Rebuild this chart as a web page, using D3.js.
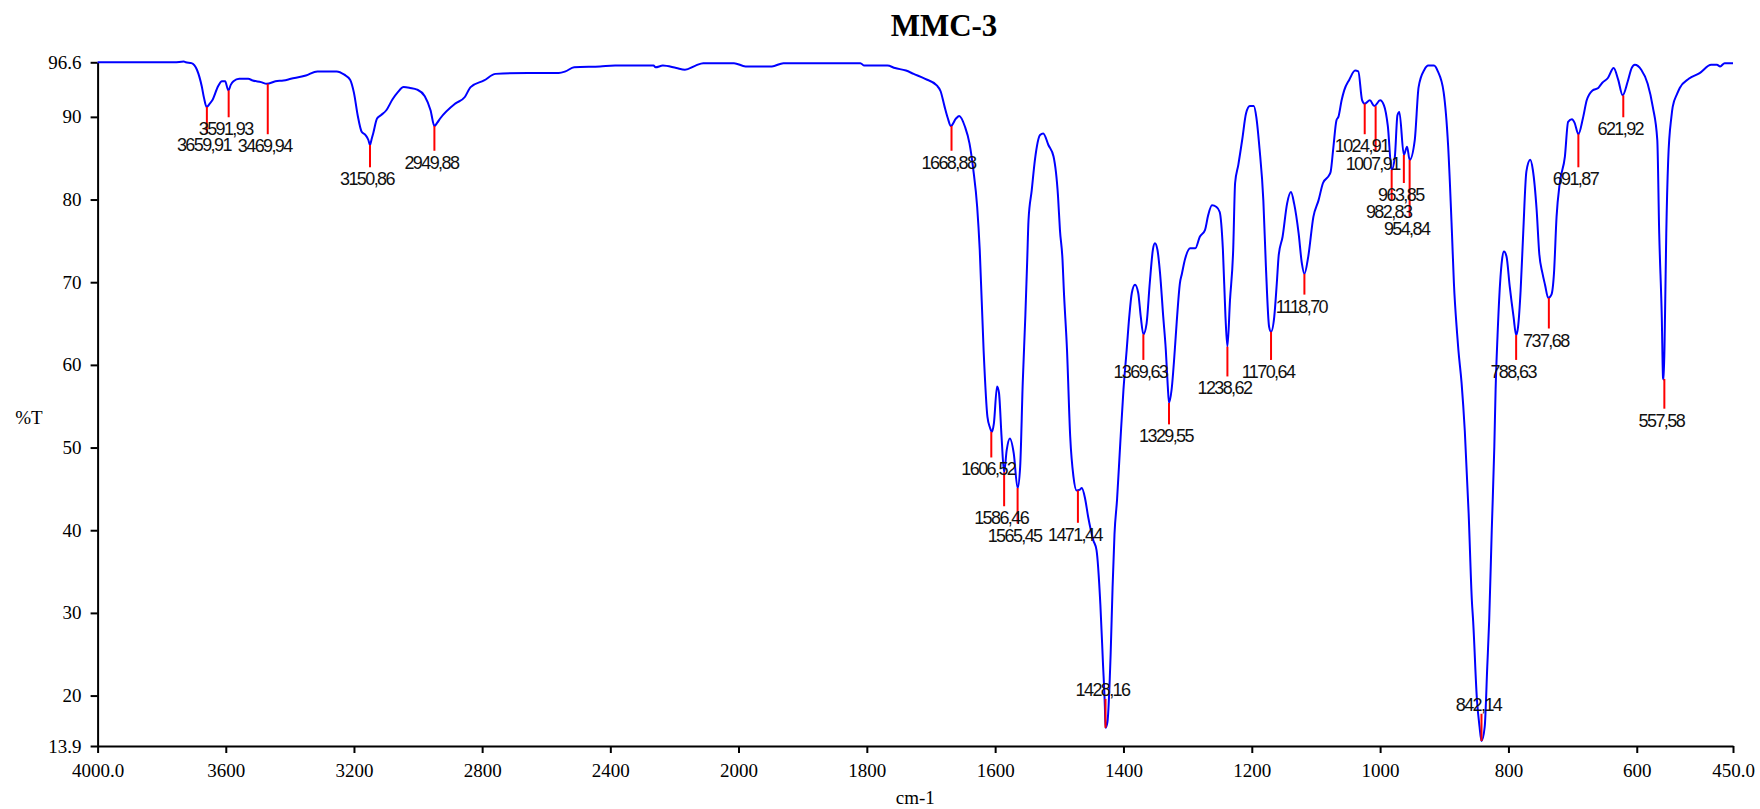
<!DOCTYPE html>
<html>
<head>
<meta charset="utf-8">
<title>MMC-3</title>
<script src="https://cdn.jsdelivr.net/npm/d3@7"></script>
<style>
  body { margin: 0; background: #fff; }
  svg { display: block; }
</style>
</head>
<body>
<svg id="chart"></svg>
<script>
// spectrum: wavenumber (cm-1) and %T
var wavenumber = [
  4000, 3760, 3731, 3725, 3707, 3690, 3675, 3668, 3660, 3650,
  3642, 3624, 3612, 3602, 3592, 3584, 3576, 3558, 3530, 3516,
  3490, 3472, 3445, 3420, 3397, 3350, 3314, 3254, 3230, 3212,
  3200, 3188, 3176, 3164, 3155, 3150, 3145, 3140, 3128, 3116,
  3099, 3080, 3063, 3045, 3025, 3003, 2979, 2961, 2949, 2940,
  2931, 2884, 2854, 2836, 2794, 2758, 2657, 2561, 2540, 2513,
  2432, 2385, 2265, 2259, 2236, 2194, 2167, 2134, 2110, 2014,
  1989, 1948, 1930, 1810, 1804, 1768, 1756, 1739, 1727, 1709,
  1691, 1685, 1679, 1674, 1669, 1661, 1656, 1647, 1640, 1634,
  1628, 1624, 1618, 1612, 1608, 1605, 1602, 1597, 1594, 1590,
  1586, 1582, 1577, 1571, 1565, 1561, 1557, 1553, 1550, 1548,
  1543, 1538, 1530, 1525, 1517, 1509, 1502, 1499, 1495, 1493,
  1488, 1483, 1478, 1473, 1468, 1465, 1460, 1455, 1447, 1442,
  1436, 1432, 1429, 1428, 1425, 1420, 1417, 1414, 1410, 1405,
  1400, 1395, 1391, 1387, 1382, 1377, 1373, 1369, 1364, 1359,
  1354, 1351, 1347, 1343, 1338, 1334, 1331, 1329, 1325, 1320,
  1317, 1312, 1309, 1304, 1296, 1288, 1281, 1273, 1268, 1262,
  1255, 1250, 1245, 1241, 1238, 1234, 1229, 1226, 1221, 1215,
  1209, 1203, 1197, 1193, 1188, 1182, 1178, 1173, 1170, 1165,
  1161, 1158, 1152, 1145, 1139, 1134, 1127, 1122, 1118, 1112,
  1104, 1096, 1089, 1079, 1077, 1073, 1068, 1065, 1060, 1056,
  1048, 1039, 1034, 1028, 1024, 1016, 1009, 1000, 994, 988,
  982, 977, 973, 970, 963, 958, 954, 946, 940, 931,
  925, 916, 910, 901, 894, 888, 885, 880, 878, 873,
  868, 862, 857, 855, 849, 845, 842, 837, 833, 830,
  826, 822, 820, 817, 813, 810, 807, 803, 798, 792,
  788, 785, 781, 777, 772, 766, 762, 756, 752, 747,
  743, 738, 733, 729, 725, 720, 712, 707, 701, 697,
  691, 684, 678, 669, 660, 654, 645, 636, 629, 622,
  614, 608, 603, 593, 583, 575, 568, 565, 561, 559,
  558, 556, 554, 551, 546, 544, 537, 533, 519, 502,
  484, 475, 470, 463, 450
];
var transmittance = [
  96.6, 96.6, 96.7, 96.6, 96.5, 95.7, 93.7, 92.3, 91.2, 91.6,
  92.0, 93.7, 94.3, 94.3, 93.2, 93.9, 94.3, 94.6, 94.6, 94.4,
  94.2, 94.0, 94.3, 94.4, 94.6, 95.0, 95.5, 95.5, 95.1, 94.5,
  92.9, 90.1, 88.2, 87.8, 87.2, 86.6, 87.3, 88.0, 89.8, 90.2,
  90.8, 92.1, 93.0, 93.6, 93.5, 93.3, 92.5, 90.8, 88.9, 89.3,
  89.8, 91.6, 92.4, 93.6, 94.4, 95.2, 95.3, 95.3, 95.5, 96.0,
  96.1, 96.2, 96.2, 96.0, 96.2, 95.9, 95.7, 96.2, 96.5, 96.5,
  96.1, 96.1, 96.5, 96.5, 96.2, 96.2, 95.9, 95.6, 95.2, 94.6,
  93.8, 93.1, 91.3, 89.9, 88.9, 89.8, 90.1, 88.8, 86.8, 83.6,
  79.1, 73.9, 61.8, 53.7, 52.4, 51.9, 52.9, 57.4, 56.6, 51.3,
  47.0, 49.7, 51.1, 49.3, 45.1, 47.7, 57.8, 65.8, 72.7, 77.5,
  81.1, 84.8, 87.8, 88.0, 86.6, 85.2, 80.4, 76.3, 72.7, 69.1,
  61.8, 51.3, 46.5, 44.8, 44.9, 45.1, 43.9, 41.6, 38.8, 37.6,
  31.0, 24.0, 18.7, 16.1, 16.8, 25.0, 33.0, 39.5, 43.7, 50.5,
  57.0, 61.8, 65.8, 68.7, 69.7, 68.7, 65.8, 63.7, 65.0, 69.9,
  74.0, 74.7, 73.9, 71.1, 65.8, 61.8, 57.5, 55.4, 57.0, 61.8,
  65.2, 69.9, 71.0, 72.8, 74.1, 74.1, 75.5, 76.3, 78.1, 79.3,
  79.1, 78.5, 73.9, 65.8, 62.2, 67.8, 73.9, 82.0, 84.2, 87.2,
  90.4, 91.3, 91.3, 90.0, 86.2, 79.9, 71.9, 64.6, 64.0, 65.8,
  69.9, 73.3, 75.5, 79.5, 80.9, 79.5, 75.9, 72.3, 71.0, 73.1,
  77.9, 79.9, 82.0, 83.0, 83.4, 86.2, 89.6, 90.0, 92.0, 93.2,
  94.5, 95.6, 95.5, 92.0, 91.6, 92.0, 91.3, 92.0, 91.4, 88.9,
  83.6, 85.2, 90.2, 90.6, 85.4, 86.4, 84.8, 87.2, 93.6, 95.7,
  96.2, 96.2, 95.5, 93.0, 86.5, 75.9, 69.9, 63.8, 61.8, 57.8,
  52.0, 42.0, 31.5, 29.0, 19.4, 16.2, 14.5, 16.2, 23.5, 29.1,
  40.0, 50.1, 57.0, 63.5, 69.9, 72.7, 73.7, 73.1, 69.5, 65.8,
  63.6, 64.6, 69.0, 75.9, 83.4, 84.8, 83.6, 78.7, 73.5, 71.1,
  69.7, 68.1, 68.5, 71.1, 77.9, 82.0, 85.2, 89.4, 89.7, 89.3,
  87.9, 89.8, 92.0, 93.2, 93.5, 94.1, 94.7, 95.9, 94.5, 92.6,
  94.3, 95.9, 96.3, 95.7, 94.0, 91.2, 87.2, 75.9, 65.8, 58.4,
  58.2, 65.8, 75.9, 84.8, 90.0, 91.2, 92.8, 93.5, 94.6, 95.3,
  96.3, 96.3, 96.1, 96.5, 96.5
];

// peak picks: position, %T at the dip, %T where the marker line stops, label
var peakWn = [3659, 3591, 3469, 3150, 2949, 1668, 1606, 1586, 1565, 1471, 1428, 1369, 1329, 1238,
              1170, 1118, 1024, 1007, 982, 963, 954, 842, 788, 737, 691, 621, 557];
var peakT = [91.2, 93.2, 94.0, 86.6, 88.9, 88.9, 51.9, 47.0, 45.1, 44.8, 16.1, 63.7, 55.4, 62.2,
             64.0, 71.0, 91.6, 91.3, 83.6, 85.4, 84.8, 14.5, 63.6, 68.1, 87.9, 92.6, 58.3];
var peakEndT = [88.0, 89.95, 87.9, 83.9, 85.9, 85.9, 48.8, 42.9, 40.8, 40.9, 19.6, 60.6, 52.8, 58.6,
                60.6, 68.5, 87.9, 85.8, 79.9, 82.0, 77.9, 17.8, 60.6, 64.4, 83.9, 89.95, 54.7];
var peakLabel = ["3659,91", "3591,93", "3469,94", "3150,86", "2949,88", "1668,88", "1606,52",
                 "1586,46", "1565,45", "1471,44", "1428,16", "1369,63", "1329,55", "1238,62",
                 "1170,64", "1118,70", "1024,91", "1007,91", "982,83", "963,85", "954,84",
                 "842,14", "788,63", "737,68", "691,87", "621,92", "557,58"];

var xTicks = [4000, 3600, 3200, 2800, 2400, 2000, 1800, 1600, 1400, 1200, 1000, 800, 600, 450];
var xTickLabels = ["4000.0", "3600", "3200", "2800", "2400", "2000", "1800", "1600", "1400",
                   "1200", "1000", "800", "600", "450.0"];
var yTicks = [13.9, 20, 30, 40, 50, 60, 70, 80, 90, 96.6];
var yTickLabels = ["13.9", "20", "30", "40", "50", "60", "70", "80", "90", "96.6"];

var svgWidth = 1760, svgHeight = 809;
var serif = "'Liberation Serif', 'Times New Roman', serif";
var sans = "'Liberation Sans', Arial, sans-serif";

var svg = d3.select("#chart")
    .attr("width", svgWidth)
    .attr("height", svgHeight);

// instrument scale: 4000-2000 is compressed by half
var x = d3.scaleLinear()
    .domain([4000, 2000, 450])
    .range([97.6, 738.5, 1733]);

var y = d3.scaleLinear()
    .domain([13.9, 96.6])
    .range([746, 62.3]);

var data = wavenumber.map(function(w, i) { return { wn: w, t: transmittance[i] }; });

// axes
var xAxis = svg.append("g")
    .attr("transform", "translate(0," + y(13.9) + ")")
    .call(d3.axisBottom(x)
        .tickValues(xTicks)
        .tickFormat(function(d, i) { return xTickLabels[i]; })
        .tickSize(7)
        .tickSizeOuter(0)
        .tickPadding(11));

var yAxis = svg.append("g")
    .attr("transform", "translate(" + x(4000) + ",0)")
    .call(d3.axisLeft(y)
        .tickValues(yTicks)
        .tickFormat(function(d, i) { return yTickLabels[i]; })
        .tickSize(7)
        .tickSizeOuter(0)
        .tickPadding(9));

[xAxis, yAxis].forEach(function(a) {
    a.attr("font-family", null).attr("font-size", null);
    a.selectAll("path, line").attr("stroke", "#000").attr("stroke-width", 2);
    a.selectAll("text")
        .attr("fill", "#000")
        .style("font-family", serif)
        .style("font-size", "19px");
});

// spectrum
var line = d3.line()
    .x(function(d) { return x(d.wn); })
    .y(function(d) { return y(d.t); })
    .curve(d3.curveMonotoneX);

svg.append("path")
    .datum(data)
    .attr("fill", "none")
    .attr("stroke", "#0000ff")
    .attr("stroke-width", 2)
    .attr("stroke-linejoin", "round")
    .attr("d", line);

// peak markers
var peaks = peakWn.map(function(w, i) {
    return { wn: w, t: peakT[i], end: peakEndT[i], label: peakLabel[i] };
});

svg.append("g").selectAll("line")
    .data(peaks)
    .join("line")
    .attr("x1", function(d) { return x(d.wn); })
    .attr("x2", function(d) { return x(d.wn); })
    .attr("y1", function(d) { return y(d.t); })
    .attr("y2", function(d) { return y(d.end); })
    .attr("stroke", "#ff0000")
    .attr("stroke-width", 2);

svg.append("g").selectAll("text")
    .data(peaks)
    .join("text")
    .attr("x", function(d) { return x(d.wn) - 3; })
    .attr("y", function(d) { return d.end > d.t ? y(d.end) - 3 : y(d.end) + 18; })
    .attr("text-anchor", "middle")
    .style("font-family", sans)
    .style("font-size", "18px")
    .style("letter-spacing", "-1.6px")
    .attr("fill", "#111")
    .text(function(d) { return d.label; });

// titles
svg.append("text")
    .attr("x", 944)
    .attr("y", 36)
    .attr("text-anchor", "middle")
    .style("font-family", serif)
    .style("font-weight", "bold")
    .style("font-size", "31px")
    .text("MMC-3");

svg.append("text")
    .attr("x", (x(4000) + x(450)) / 2)
    .attr("y", 804)
    .attr("text-anchor", "middle")
    .style("font-family", serif)
    .style("font-size", "19px")
    .text("cm-1");

svg.append("text")
    .attr("x", 29)
    .attr("y", 424)
    .attr("text-anchor", "middle")
    .style("font-family", serif)
    .style("font-size", "19px")
    .text("%T");
</script>
</body>
</html>
